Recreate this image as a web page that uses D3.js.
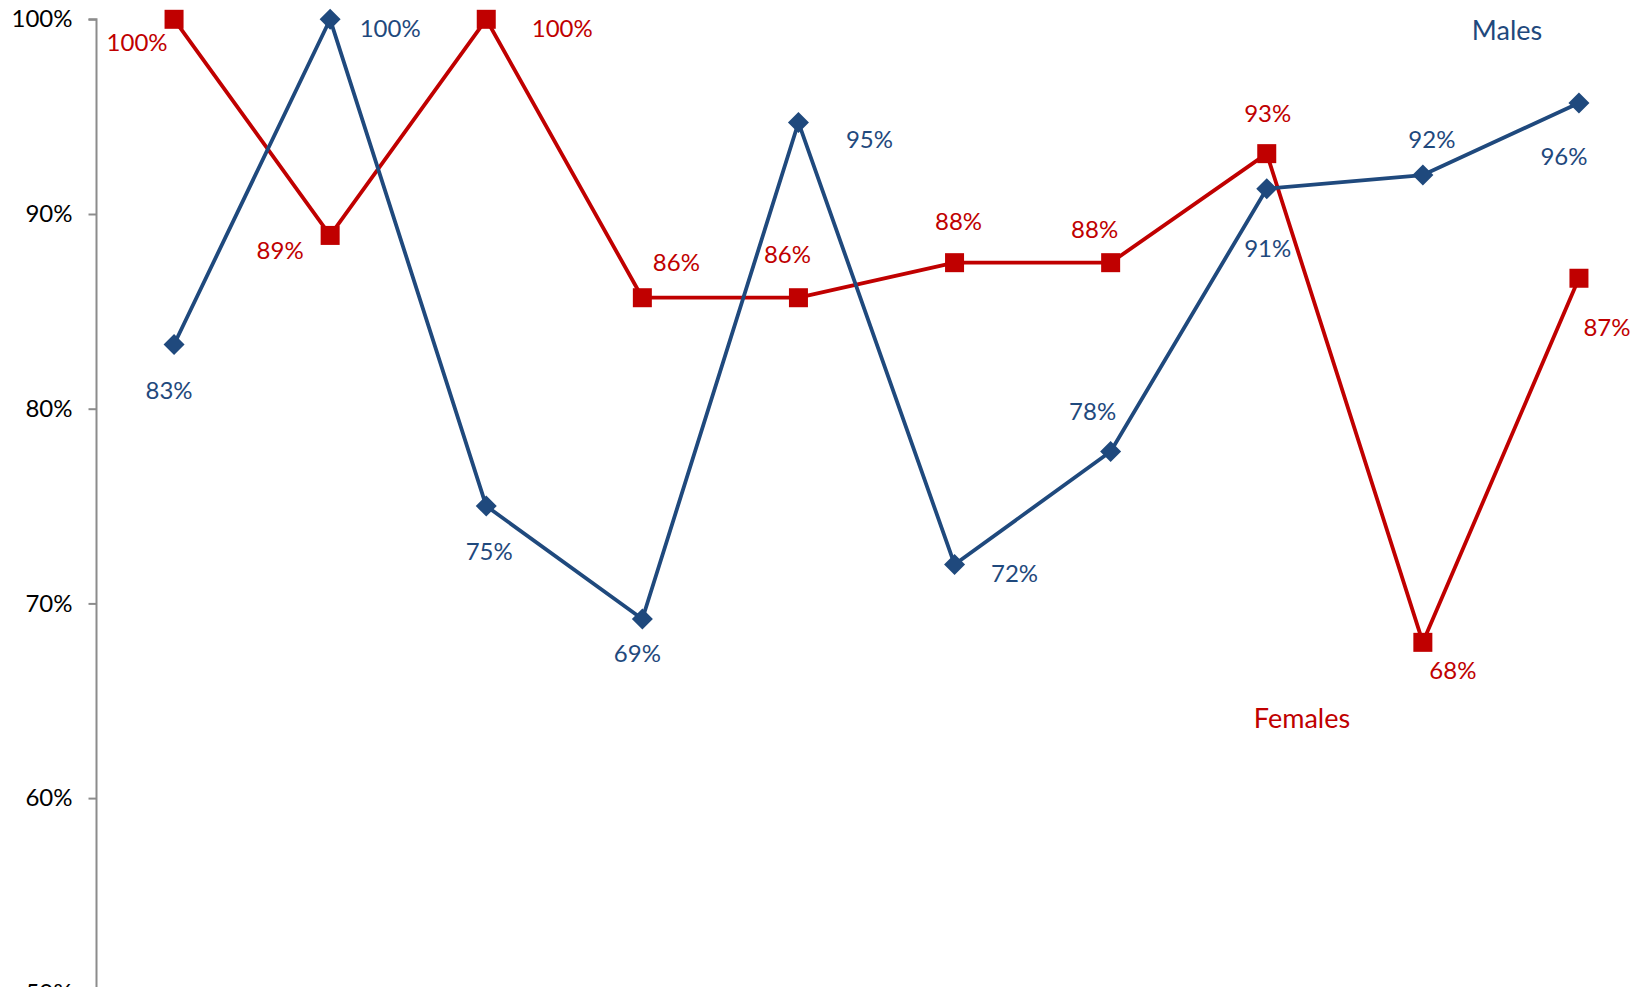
<!DOCTYPE html>
<html>
<head>
<meta charset="utf-8">
<script src="https://cdn.jsdelivr.net/npm/d3@7"></script>
<style>
  html, body { margin: 0; padding: 0; background: #fff; overflow: hidden; }
  svg { display: block; }
  text { font-family: Lato, "Open Sans", sans-serif; }
</style>
</head>
<body>
<svg id="chart" width="1644" height="987"></svg>
<script>
// Groups along the horizontal axis (the axis itself is not labelled)
const groups = ["1", "2", "3", "4", "5", "6", "7", "8", "9", "10"];

// Share of each group, by sex
const males   = [0.833, 1.000, 0.750, 0.692, 0.947, 0.720, 0.778, 0.913, 0.920, 0.957];
const females = [1.000, 0.889, 1.000, 0.857, 0.857, 0.875, 0.875, 0.931, 0.680, 0.867];

// Y axis tick values
const yTicks = [0.5, 0.6, 0.7, 0.8, 0.9, 1.0];

// Where each value label sits relative to its marker [dx, dy]
const maleLabelOffset = [[-5, 45], [60, 8], [3, 44], [-5, 34], [71, 16],
                         [60, 8], [-18, -41], [1, 59], [9, -37], [-15, 52]];
const femaleLabelOffset = [[-37, 22], [-50, 14], [76, 8], [34, -36], [-11, -44],
                           [4, -42], [-16, -34], [1, -41], [30, 27], [28, 48]];

const blue = "#1F497D";
const red = "#C00000";

const svg = d3.select("#chart");

// The plot area runs past the right edge of the page
const x = d3.scalePoint().domain(groups).range([96, 1657]).padding(0.5);
const y = d3.scaleLinear().domain([0.5, 1.0]).range([992.8, 19.3]);

// Vertical axis
const yAxis = d3.axisLeft(y)
  .tickValues(yTicks)
  .tickFormat(d3.format(".0%"))
  .tickSize(8)
  .tickPadding(16);

const gy = svg.append("g")
  .attr("transform", "translate(96.5,0)")
  .call(yAxis);
gy.select(".domain").attr("stroke", "#8c8c8c").attr("stroke-width", 2)
  .attr("d", `M-8,${y(1.0)}H0V${y(0.5) + 20}`);
gy.selectAll(".tick line").attr("stroke", "#8c8c8c").attr("stroke-width", 2);
gy.selectAll(".tick text")
  .attr("fill", "#000")
  .style("font-size", "24px")
  .style("font-family", "Lato, 'Open Sans', sans-serif");

const line = d3.line()
  .x((d, i) => x(groups[i]))
  .y(d => y(d));

// Females series
svg.append("path")
  .datum(females)
  .attr("fill", "none")
  .attr("stroke", red)
  .attr("stroke-width", 3.8)
  .attr("stroke-linejoin", "round")
  .attr("d", line);

// Males series
svg.append("path")
  .datum(males)
  .attr("fill", "none")
  .attr("stroke", blue)
  .attr("stroke-width", 3.8)
  .attr("stroke-linejoin", "round")
  .attr("d", line);

// Square markers for females
const sq = 19;
svg.append("g").selectAll("rect")
  .data(females)
  .join("rect")
  .attr("x", (d, i) => x(groups[i]) - sq / 2)
  .attr("y", d => y(d) - sq / 2)
  .attr("width", sq)
  .attr("height", sq)
  .attr("fill", red);

// Diamond markers for males
const dm = 10.5;
svg.append("g").selectAll("path")
  .data(males)
  .join("path")
  .attr("d", (d, i) => {
    const cx = x(groups[i]), cy = y(d);
    return `M${cx},${cy - dm}L${cx + dm},${cy}L${cx},${cy + dm}L${cx - dm},${cy}Z`;
  })
  .attr("fill", blue);

const pct = d3.format(".0%");

// Value labels
function labels(values, offsets, color) {
  svg.append("g").selectAll("text")
    .data(values)
    .join("text")
    .attr("x", (d, i) => x(groups[i]) + offsets[i][0])
    .attr("y", (d, i) => y(d) + offsets[i][1])
    .attr("text-anchor", "middle")
    .attr("dominant-baseline", "central")
    .attr("fill", color)
    .style("font-size", "24px")
    .text(d => pct(d));
}
labels(females, femaleLabelOffset, red);
labels(males, maleLabelOffset, blue);

// Series names
svg.append("text")
  .attr("x", 1507).attr("y", 29)
  .attr("text-anchor", "middle").attr("dominant-baseline", "central")
  .attr("fill", blue).style("font-size", "27px")
  .text("Males");
svg.append("text")
  .attr("x", 1302).attr("y", 717)
  .attr("text-anchor", "middle").attr("dominant-baseline", "central")
  .attr("fill", red).style("font-size", "27px")
  .text("Females");
</script>
</body>
</html>
